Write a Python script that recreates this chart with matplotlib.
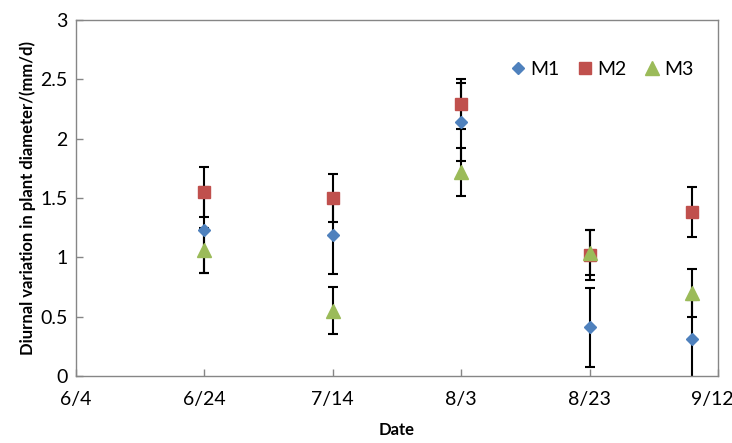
import matplotlib
matplotlib.use('Agg')
import matplotlib.pyplot as plt
import matplotlib.transforms as mtransforms
import numpy as np
from datetime import datetime

# sampling dates and diurnal variation (mm/d) with error bars
dates = ['2020-06-24', '2020-07-14', '2020-08-03', '2020-08-23', '2020-09-08']
m1 = [1.23, 1.19, 2.14, 0.41, 0.31]
m1_err = [0.36, 0.33, 0.33, 0.33, 0.33]
m2 = [1.55, 1.50, 2.29, 1.02, 1.38]
m2_err = [0.21, 0.20, 0.21, 0.21, 0.21]
m3 = [1.06, 0.55, 1.72, 1.04, 0.70]
m3_err = [0.19, 0.20, 0.20, 0.19, 0.20]

tick_dates = ['2020-06-04', '2020-06-24', '2020-07-14', '2020-08-03', '2020-08-23', '2020-09-12']
tick_labels = ['6/4', '6/24', '7/14', '8/3', '8/23', '9/12']

plt.rcParams['font.family'] = ['Lato', 'DejaVu Sans']

x = [datetime.strptime(d, '%Y-%m-%d') for d in dates]
xt = [datetime.strptime(d, '%Y-%m-%d') for d in tick_dates]

fig = plt.figure(figsize=(7.32, 4.43), dpi=100)
ax = fig.add_axes([0.1038, 0.1512, 0.877, 0.8036])

series = [('M1', m1, m1_err, 'D', '#4F81BD', 6.5),
          ('M2', m2, m2_err, 's', '#C0504D', 9),
          ('M3', m3, m3_err, '^', '#9BBB59', 10)]
for name, y, e, mk, col, ms in series:
    ax.errorbar(x, y, yerr=e, fmt='none', ecolor='black', elinewidth=1.5,
                capsize=3.5, capthick=1.5, zorder=2)
for name, y, e, mk, col, ms in series:
    ax.plot(x, y, linestyle='none', marker=mk, color=col, markersize=ms,
            label=name, zorder=3)

ax.set_xlim(xt[0], xt[-1])
ax.set_ylim(0, 3)
ax.set_xticks(xt)
ax.set_xticklabels(tick_labels)
ax.set_yticks(np.arange(0, 3.01, 0.5))
ax.set_yticklabels(['0', '0.5', '1', '1.5', '2', '2.5', '3'])
ax.tick_params(direction='in', length=5, width=1, color='#868686',
               labelsize=14, pad=6)
ax.tick_params(axis='x', pad=11)
for s in ax.spines.values():
    s.set_color('#868686')
    s.set_linewidth(1)

# last date label sits a bit left so it stays inside the figure
last = ax.get_xticklabels()[-1]
last.set_transform(last.get_transform() +
                   mtransforms.ScaledTranslation(-6 / 100, 0, fig.dpi_scale_trans))

ax.set_xlabel('Date', fontsize=12, fontweight='bold', labelpad=10)
ax.set_ylabel('Diurnal variation in plant diameter/(mm/d)', fontsize=12,
              fontweight='bold', labelpad=3)

ax.legend(loc='upper right', ncol=3, frameon=False, fontsize=14,
          handletextpad=0.15, columnspacing=0.8, handlelength=1.0,
          bbox_to_anchor=(0.99, 0.935))

fig.savefig('out.png', dpi=100)
